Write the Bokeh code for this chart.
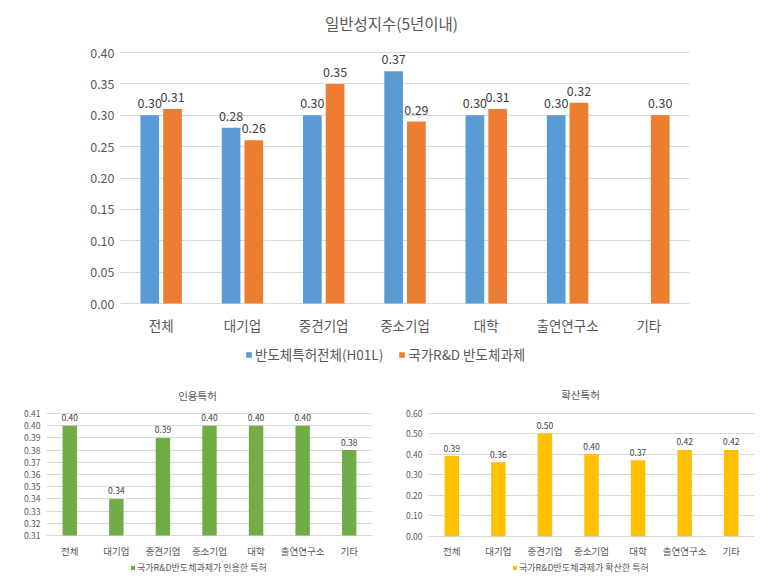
from bokeh.plotting import figure
from bokeh.models import (ColumnDataSource, FactorRange, Range1d, FixedTicker,
                          NumeralTickFormatter, LabelSet, Label, Legend, LegendItem)
from bokeh.layouts import column, row
from bokeh.transform import dodge
from bokeh.core.properties import value
from bokeh.embed import file_html
from bokeh.resources import INLINE

# ---------------- data ----------------
categories = ["전체", "대기업", "중견기업", "중소기업", "대학", "출연연구소", "기타"]

general_all = [0.30, 0.28, 0.30, 0.37, 0.30, 0.30, None]   # 반도체특허전체(H01L)
general_rnd = [0.31, 0.26, 0.35, 0.29, 0.31, 0.32, 0.30]   # 국가R&D 반도체과제
cited = [0.40, 0.34, 0.39, 0.40, 0.40, 0.40, 0.38]         # 인용특허
diffused = [0.39, 0.36, 0.50, 0.40, 0.37, 0.42, 0.42]      # 확산특허

top_ticks = [0.00, 0.05, 0.10, 0.15, 0.20, 0.25, 0.30, 0.35, 0.40]
left_ticks = [0.31, 0.32, 0.33, 0.34, 0.35, 0.36, 0.37, 0.38, 0.39, 0.40, 0.41]
right_ticks = [0.00, 0.10, 0.20, 0.30, 0.40, 0.50, 0.60]

top_title = "일반성지수(5년이내)"
left_title = "인용특허"
right_title = "확산특허"
name_all = "반도체특허전체(H01L)"
name_rnd = "국가R&D 반도체과제"
name_cited = "국가R&D반도체과제가 인용한 특허"
name_diff = "국가R&D반도체과제가 확산한 특허"

FONT = "Noto Sans CJK KR"
AXIS_COLOR = "#595959"
LABEL_COLOR = "#404040"
GRID = "#D9D9D9"


class Panel:
    """Figure whose plotting frame fills the canvas right of the y-axis labels.
    The value axis is placed so that ticks[0] / ticks[-1] land on the given pixel rows."""

    def __init__(self, width, height, fig_top, ticks, px_hi, px_lo, left_px, right_px, fig_left):
        self.fig_top = fig_top
        self.fig_left = fig_left
        self.left_px = left_px
        self.cat_px = (right_px - left_px) / len(categories)
        v_hi, v_lo = ticks[-1], ticks[0]
        self.scale = (px_lo - px_hi) / (v_hi - v_lo)
        self.v_hi, self.px_hi = v_hi, px_hi
        y_top = v_hi + (px_hi - fig_top) / self.scale
        y_bot = v_lo - (fig_top + height - px_lo) / self.scale
        p = figure(x_range=FactorRange(factors=categories, range_padding=0, factor_padding=0),
                   y_range=Range1d(y_bot, y_top), width=width, height=height,
                   output_backend="svg", toolbar_location=None,
                   min_border_left=left_px - fig_left,
                   min_border_right=fig_left + width - right_px,
                   min_border_top=0, min_border_bottom=0)
        p.outline_line_color = None
        p.xgrid.grid_line_color = None
        p.ygrid.grid_line_color = GRID
        p.ygrid.ticker = FixedTicker(ticks=ticks)
        p.yaxis.ticker = FixedTicker(ticks=ticks)
        p.yaxis.formatter = NumeralTickFormatter(format="0.00")
        p.xaxis.fixed_location = v_lo
        for ax in (p.xaxis[0], p.yaxis[0]):
            ax.axis_line_color = None
            ax.major_tick_line_color = None
            ax.minor_tick_line_color = None
            ax.major_tick_out = 0
            ax.major_tick_in = 0
            ax.major_label_text_color = AXIS_COLOR
            ax.major_label_text_font = FONT
        p.yaxis.major_label_standoff = 6
        self.p = p

    def data_x(self, px):
        return (px - self.left_px) / self.cat_px

    def data_y(self, py):
        return self.v_hi + (self.px_hi - py) / self.scale

    def title(self, text, cx, cy, size):
        self.p.add_layout(Label(x=self.data_x(cx), y=self.data_y(cy), text=text,
                                text_align="center", text_baseline="middle",
                                text_font=FONT, text_font_size=size,
                                text_color=AXIS_COLOR))

    def legend(self, items, left, bottom, glyph, standoff, spacing, size, lh):
        self.p.add_layout(Legend(
            items=items, orientation="horizontal",
            location=(left - self.left_px, self.fig_top + self.p.height - bottom),
            glyph_width=glyph, glyph_height=glyph, label_standoff=standoff,
            spacing=spacing, label_height=lh,
            label_text_font=FONT, label_text_font_size=size,
            label_text_color=AXIS_COLOR, border_line_color=None,
            background_fill_alpha=0, padding=0, margin=0))


def fmt(vals):
    return ["%.2f" % v for v in vals]


# ---------------- top chart ----------------
top = Panel(776, 382, 0, top_ticks, 52, 303, 120, 689, 0)
p_top = top.p
p_top.yaxis.major_label_text_font_size = "12.5px"
p_top.xaxis.major_label_text_font_size = "13.5px"
p_top.xaxis.major_label_standoff = 11

cats_a = [c for c, v in zip(categories, general_all) if v is not None]
vals_a = [v for v in general_all if v is not None]
src_a = ColumnDataSource(dict(cat=cats_a, val=vals_a, txt=fmt(vals_a)))
src_b = ColumnDataSource(dict(cat=categories, val=general_rnd, txt=fmt(general_rnd)))

r_a = p_top.vbar(x=dodge("cat", -0.14, range=p_top.x_range), top="val", bottom=top_ticks[0],
                 width=0.23, source=src_a, fill_color="#5B9BD5", line_color=None)
r_b = p_top.vbar(x=dodge("cat", 0.14, range=p_top.x_range), top="val", bottom=top_ticks[0],
                 width=0.23, source=src_b, fill_color="#ED7D31", line_color=None)

for src, off in ((src_a, -0.14), (src_b, 0.14)):
    p_top.add_layout(LabelSet(x=dodge("cat", off, range=p_top.x_range), y="val", text="txt",
                              source=src, text_align="center", text_baseline="middle",
                              y_offset=12, text_font=value(FONT), text_font_size="12.5px",
                              text_color=LABEL_COLOR))

top.title(top_title, 391, 22, "15.5px")
top.legend([LegendItem(label=name_all, renderers=[r_a]),
            LegendItem(label=name_rnd, renderers=[r_b])],
           245, 364, 7, 3, 15, "13.5px", 18)

# ---------------- bottom-left chart ----------------
left = Panel(388, 203, 382, left_ticks, 413, 535, 46, 372, 0)
p_left = left.p
p_left.yaxis.major_label_text_font_size = "8.5px"
p_left.xaxis.major_label_text_font_size = "9.5px"
p_left.xaxis.major_label_standoff = 8
src_c = ColumnDataSource(dict(cat=categories, val=cited, txt=fmt(cited)))
r_c = p_left.vbar(x="cat", top="val", bottom=left_ticks[0], width=0.31, source=src_c,
                  fill_color="#70AD47", line_color=None)
p_left.add_layout(LabelSet(x="cat", y="val", text="txt", source=src_c, text_align="center",
                           text_baseline="middle", y_offset=8, text_font=value(FONT),
                           text_font_size="8.5px", text_color=LABEL_COLOR))
left.title(left_title, 197, 395, "10.5px")
left.legend([LegendItem(label=name_cited, renderers=[r_c])],
            130, 574, 5, 2, 10, "9px", 12)

# ---------------- bottom-right chart ----------------
right = Panel(388, 203, 382, right_ticks, 412.5, 535.7, 428, 754, 388)
p_right = right.p
p_right.yaxis.major_label_text_font_size = "8.5px"
p_right.xaxis.major_label_text_font_size = "9.5px"
p_right.xaxis.major_label_standoff = 8
src_d = ColumnDataSource(dict(cat=categories, val=diffused, txt=fmt(diffused)))
r_d = p_right.vbar(x="cat", top="val", bottom=right_ticks[0], width=0.31, source=src_d,
                   fill_color="#FFC000", line_color=None)
p_right.add_layout(LabelSet(x="cat", y="val", text="txt", source=src_d, text_align="center",
                            text_baseline="middle", y_offset=8, text_font=value(FONT),
                            text_font_size="8.5px", text_color=LABEL_COLOR))
right.title(right_title, 580, 394, "10.5px")
right.legend([LegendItem(label=name_diff, renderers=[r_d])],
             512, 574, 5, 2, 10, "9px", 12)

layout = column(p_top, row(p_left, p_right, spacing=0), spacing=0)

open("out.html", "w").write(file_html(layout, INLINE))
